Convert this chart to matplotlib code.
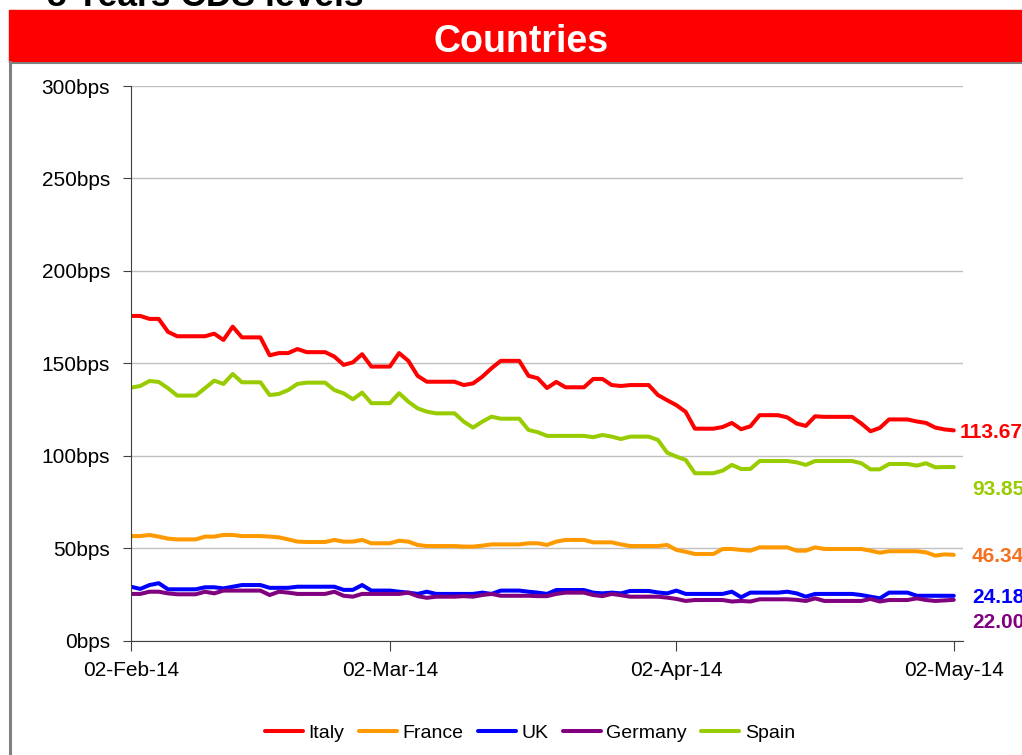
from datetime import datetime

import matplotlib
import matplotlib.dates as mdates
import pandas as pd
from matplotlib import pyplot as plt

matplotlib.use("Agg")

# Daily CDS levels, 02-Feb-14 .. 02-May-14 (bps)
dates = pd.date_range("2014-02-02", "2014-05-02", freq="D")

italy = [
    175.6, 175.6, 174, 174, 167, 164.6, 164.6, 164.6, 164.6, 166,
    162.6, 169.8, 164, 164, 164, 154.3, 155.5, 155.5, 157.7, 156,
    156, 156, 153.6, 149.1, 150.5, 154.9, 148.2, 148.2, 148.2, 155.5,
    151.3, 143.2, 140, 140, 140, 140, 138.2, 139.1, 142.7, 147.3,
    151.3, 151.3, 151.3, 143.2, 141.9, 136.6, 139.9, 137, 137, 137,
    141.5, 141.5, 138.2, 137.7, 138.2, 138.2, 138.2, 132.8, 130, 127.3,
    123.7, 114.6, 114.6, 114.6, 115.5, 117.7, 114.3, 115.9, 121.9, 121.9,
    121.9, 120.7, 117.4, 116.1, 121.3, 121, 121, 121, 121, 117.4,
    113.2, 115, 119.6, 119.6, 119.6, 118.5, 117.7, 115.2, 114.2, 113.67]
france = [
    56.5, 56.5, 57.1, 56.2, 55.1, 54.7, 54.7, 54.7, 56.2, 56.2,
    57.1, 57.1, 56.5, 56.5, 56.5, 56.2, 55.8, 54.7, 53.5, 53.3,
    53.3, 53.3, 54.4, 53.5, 53.5, 54.4, 52.6, 52.6, 52.6, 54,
    53.5, 51.7, 51.1, 51.1, 51.1, 51.1, 50.8, 50.8, 51.3, 52,
    52, 52, 52, 52.6, 52.6, 51.7, 53.5, 54.4, 54.4, 54.4,
    53.1, 53.1, 53.1, 52, 51.1, 51.1, 51.1, 51.1, 51.7, 49,
    48, 46.8, 46.8, 46.8, 49.5, 49.5, 49, 48.6, 50.4, 50.4,
    50.4, 50.4, 48.6, 48.6, 50.4, 49.5, 49.5, 49.5, 49.5, 49.5,
    48.6, 47.5, 48.3, 48.3, 48.3, 48.3, 47.7, 45.9, 46.6, 46.34]
uk = [
    29.1, 27.9, 30, 31, 27.7, 27.7, 27.7, 27.7, 28.8, 28.8,
    28.2, 29.1, 30, 30, 30, 28.5, 28.5, 28.5, 29.1, 29.1,
    29.1, 29.1, 29.1, 27.4, 27.4, 30, 27, 27, 27, 26.4,
    25.9, 25.2, 26.4, 25.2, 25.2, 25.2, 25.2, 25.2, 25.9, 25.2,
    27, 27, 27, 26.4, 25.9, 25.2, 27.3, 27.3, 27.3, 27.3,
    25.9, 25.5, 25.9, 25.5, 26.8, 26.8, 26.8, 26, 25.5, 27,
    25.2, 25.2, 25.2, 25.2, 25.2, 26.4, 23.4, 25.9, 25.9, 25.9,
    25.9, 26.4, 25.5, 23.7, 25.2, 25.2, 25.2, 25.2, 25.2, 24.6,
    23.7, 22.8, 25.9, 25.9, 25.9, 24.2, 24.2, 24.2, 24.2, 24.18]
germany = [
    25.2, 25.2, 26.4, 26.4, 25.5, 25, 25, 25, 26.4, 25.5,
    27, 27, 27, 27, 27, 24.6, 26.4, 25.9, 25.2, 25.2,
    25.2, 25.2, 26.4, 24.2, 23.7, 25.2, 25.2, 25.2, 25.2, 25.2,
    25.9, 24, 23.1, 23.7, 23.7, 23.7, 24, 23.7, 24.6, 25.2,
    24.2, 24.2, 24.2, 24.2, 24, 24, 25.2, 25.9, 25.9, 25.9,
    24.6, 24, 25.2, 24.5, 23.7, 23.7, 23.7, 23.7, 23.2, 22.5,
    21.4, 21.9, 21.9, 21.9, 21.9, 21.1, 21.4, 21.1, 22.3, 22.3,
    22.3, 22.3, 22, 21.4, 22.8, 21.4, 21.4, 21.4, 21.4, 21.4,
    22.5, 21.1, 21.9, 21.9, 21.9, 22.8, 21.9, 21.4, 21.7, 22.0]
spain = [
    136.8, 137.7, 140.4, 139.9, 136.5, 132.5, 132.5, 132.5, 136.5, 140.6,
    138.8, 144.2, 139.7, 139.7, 139.7, 132.8, 133.4, 135.5, 138.8, 139.5,
    139.5, 139.5, 135.5, 133.7, 130.5, 134.1, 128.4, 128.4, 128.4, 133.8,
    129.2, 125.6, 123.8, 122.9, 122.9, 122.9, 118.4, 115.2, 118.4, 121.1,
    120, 120, 120, 113.9, 112.7, 110.7, 110.7, 110.7, 110.7, 110.7,
    110, 111.2, 110.3, 109, 110.3, 110.3, 110.3, 108.5, 101.6, 99.5,
    97.7, 90.5, 90.5, 90.5, 91.9, 95, 92.8, 92.8, 97.1, 97.1,
    97.1, 97.1, 96.4, 95, 97.1, 97.1, 97.1, 97.1, 97.1, 95.9,
    92.6, 92.6, 95.5, 95.5, 95.5, 94.6, 95.9, 93.7, 93.85, 93.85]

names = ["Italy", "France", "UK", "Germany", "Spain"]
series = [italy, france, uk, germany, spain]
line_colors = ["#FF0000", "#FF9900", "#0000FF", "#800080", "#99CC00"]
label_colors = ["#FF0000", "#F5701F", "#0000FF", "#800080", "#99CC00"]
# offsets (points) of the end-value labels
label_offsets = [(4, -1.5), (13, -1.5), (13, -1.5), (13, -16.5), (13, -16.5)]

y_ticks = [0, 50, 100, 150, 200, 250, 300]
x_ticks = [datetime(2014, 2, 2), datetime(2014, 3, 2),
           datetime(2014, 4, 2), datetime(2014, 5, 2)]

plt.rcParams["font.family"] = ["Liberation Sans", "DejaVu Sans"]

fig = plt.figure(figsize=(10.22, 7.55), dpi=100)

# header: cut-off slide title and red banner
fig.text(47 / 1022, 1 - 6.5 / 755, "5 Years CDS levels", fontsize=25.5,
         fontweight="bold", color="black", va="baseline", ha="left")
fig.patches.append(plt.Rectangle(
    (9 / 1022, 1 - 62 / 755), 1, 52 / 755, transform=fig.transFigure,
    color="#FF0000", zorder=1))
fig.text(521 / 1022, 1 - 52.5 / 755, "Countries", fontsize=27,
         fontweight="bold", color="white", ha="center", va="baseline")
fig.lines.append(plt.Line2D(
    [10 / 1022, 10 / 1022], [0, 1 - 62 / 755], transform=fig.transFigure,
    color="#808080", linewidth=2.2))
fig.lines.append(plt.Line2D(
    [10 / 1022, 1], [1 - 63 / 755, 1 - 63 / 755], transform=fig.transFigure,
    color="#808080", linewidth=1.5))

ax = fig.add_axes([131 / 1022, 1 - 640.5 / 755, 832 / 1022, 554.5 / 755])

for name, values, color in zip(names, series, line_colors):
    ax.plot(dates, values, color=color, linewidth=2.9, label=name,
            solid_joinstyle="round", solid_capstyle="round")

for values, color, offset in zip(series, label_colors, label_offsets):
    ax.annotate(f"{values[-1]:.2f}", (dates[-1], values[-1]),
                xytext=offset, textcoords="offset points", color=color,
                fontsize=15, fontweight="bold", va="center", ha="left",
                annotation_clip=False)

ax.set_ylim(0, 300)
ax.set_xlim(datetime(2014, 2, 2), datetime(2014, 5, 3))
ax.set_yticks(y_ticks)
ax.set_yticklabels([f"{v}bps" for v in y_ticks])
ax.set_xticks(x_ticks)
ax.xaxis.set_major_formatter(mdates.DateFormatter("%d-%b-%y"))
ax.grid(axis="y", color="#C0C0C0", linewidth=1)
ax.set_axisbelow(True)
for side in ["top", "right"]:
    ax.spines[side].set_visible(False)
ax.spines["left"].set_color("#404040")
ax.spines["bottom"].set_color("#404040")
ax.tick_params(axis="y", length=6, pad=9, labelsize=15, color="#404040")
ax.tick_params(axis="x", length=7, pad=8, labelsize=15, color="#404040")

fig.legend(loc="center", bbox_to_anchor=(530 / 1022, 1 - 733 / 755),
           ncol=5, frameon=False, handlelength=1.95,
           handletextpad=0.28, columnspacing=0.75, prop={"size": 14})

fig.savefig("out.png", dpi=100)
